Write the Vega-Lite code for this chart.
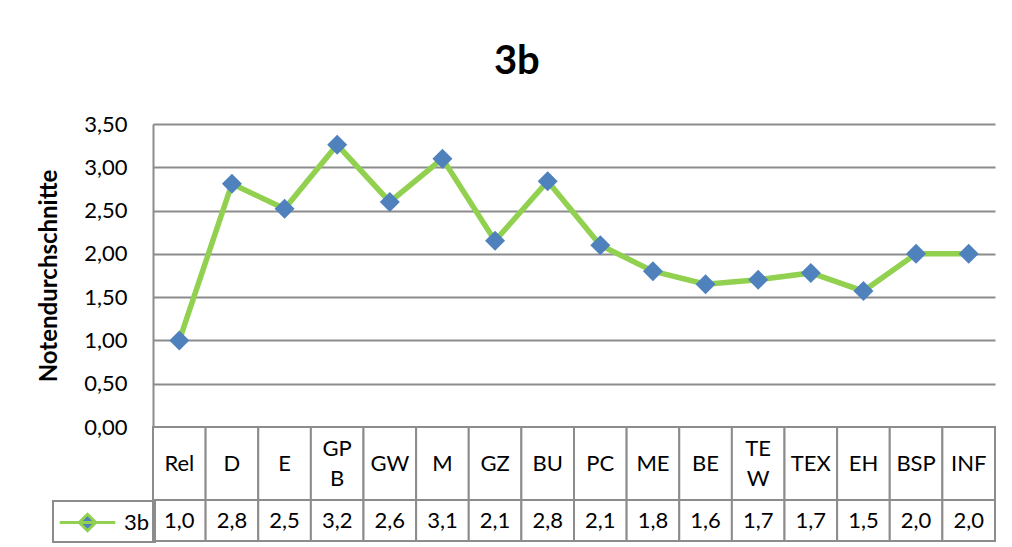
{
  "$schema": "https://vega.github.io/schema/vega-lite/v6.json",
  "background": "white",
  "padding": {"left": 37, "top": 42, "right": 15, "bottom": 5},
  "title": {"text": "3b", "font": "Lato", "fontSize": 40, "fontWeight": "bold", "color": "black", "anchor": "middle", "offset": 31},
  "datasets": {
    "noten": [
      {"fach": "Rel", "label": "Rel", "note": 1.00, "tabelle": "1,0"},
      {"fach": "D", "label": "D", "note": 2.81, "tabelle": "2,8"},
      {"fach": "E", "label": "E", "note": 2.52, "tabelle": "2,5"},
      {"fach": "GPB", "label": "GP\nB", "note": 3.26, "tabelle": "3,2"},
      {"fach": "GW", "label": "GW", "note": 2.60, "tabelle": "2,6"},
      {"fach": "M", "label": "M", "note": 3.10, "tabelle": "3,1"},
      {"fach": "GZ", "label": "GZ", "note": 2.15, "tabelle": "2,1"},
      {"fach": "BU", "label": "BU", "note": 2.84, "tabelle": "2,8"},
      {"fach": "PC", "label": "PC", "note": 2.10, "tabelle": "2,1"},
      {"fach": "ME", "label": "ME", "note": 1.80, "tabelle": "1,8"},
      {"fach": "BE", "label": "BE", "note": 1.65, "tabelle": "1,6"},
      {"fach": "TEW", "label": "TE\nW", "note": 1.70, "tabelle": "1,7"},
      {"fach": "TEX", "label": "TEX", "note": 1.78, "tabelle": "1,7"},
      {"fach": "EH", "label": "EH", "note": 1.57, "tabelle": "1,5"},
      {"fach": "BSP", "label": "BSP", "note": 2.00, "tabelle": "2,0"},
      {"fach": "INF", "label": "INF", "note": 2.00, "tabelle": "2,0"}
    ]
  },
  "data": {"name": "noten"},
  "spacing": 0,
  "bounds": "flush",
  "vconcat": [
    {
      "width": 842,
      "height": 303,
      "layer": [
        {
          "mark": {"type": "line", "strokeWidth": 5.5},
          "encoding": {
            "x": {"field": "fach", "type": "nominal", "sort": null, "scale": {"type": "point", "padding": 0.5}, "axis": null},
            "y": {
              "field": "note", "type": "quantitative", "title": "Notendurchschnitte",
              "scale": {"domain": [0, 3.5], "nice": false, "zero": true},
              "axis": {
                "values": [0, 0.5, 1, 1.5, 2, 2.5, 3, 3.5],
                "labelExpr": "replace(format(datum.value, '.2f'), '.', ',')",
                "grid": true, "gridColor": "#8c8c8c", "gridWidth": 2,
                "domain": true, "domainColor": "#8c8c8c", "domainWidth": 2,
                "ticks": false, "labelPadding": 26,
                "labelFont": "Lato", "labelFontSize": 22, "labelColor": "black",
                "titleFont": "Lato", "titleFontSize": 24, "titleFontWeight": "bold", "titleColor": "black",
                "titlePadding": 22
              }
            },
            "stroke": {
              "datum": "3b",
              "scale": {"range": ["#92D050"]},
              "legend": {
                "orient": "none", "legendX": -100, "legendY": 377,
                "title": null,
                "symbolType": "M-1.85,0H1.85M0,-0.55L0.55,0L0,0.55L-0.55,0Z",
                "symbolSize": 900,
                "symbolStrokeWidth": 3,
                "symbolFillColor": "#4F81BD",
                "symbolOffset": 13,
                "labelFont": "Lato", "labelFontSize": 22, "labelColor": "black",
                "labelOffset": 20,
                "padding": 5,
                "strokeColor": "#8c8c8c",
                "encode": {"legend": {"update": {"strokeWidth": {"value": 2}}}}
              }
            }
          }
        },
        {
          "mark": {"type": "point", "shape": "diamond", "filled": true, "fill": "#4F81BD", "size": 400, "opacity": 1},
          "encoding": {
            "x": {"field": "fach", "type": "nominal", "sort": null},
            "y": {"field": "note", "type": "quantitative"}
          }
        }
      ]
    },
    {
      "width": 842,
      "height": 73,
      "layer": [
        {
          "mark": {"type": "rect", "fill": "white", "stroke": "#8c8c8c", "strokeWidth": 2},
          "encoding": {
            "x": {"field": "fach", "type": "nominal", "sort": null, "scale": {"type": "band", "paddingInner": 0, "paddingOuter": 0}, "axis": null}
          }
        },
        {
          "transform": [{"filter": "indexof(datum.label, '\\n') < 0"}],
          "mark": {"type": "text", "font": "Lato", "fontSize": 22, "color": "black", "baseline": "middle"},
          "encoding": {
            "x": {"field": "fach", "type": "nominal", "sort": null},
            "text": {"field": "label"}
          }
        },
        {
          "transform": [{"filter": "indexof(datum.label, '\\n') >= 0"}],
          "mark": {"type": "text", "font": "Lato", "fontSize": 22, "color": "black", "baseline": "middle", "lineBreak": "\n", "lineHeight": 30, "dy": -15},
          "encoding": {
            "x": {"field": "fach", "type": "nominal", "sort": null},
            "text": {"field": "label"}
          }
        }
      ]
    },
    {
      "width": 842,
      "height": 41,
      "layer": [
        {
          "mark": {"type": "rect", "fill": "white", "stroke": "#8c8c8c", "strokeWidth": 2},
          "encoding": {
            "x": {"field": "fach", "type": "nominal", "sort": null, "scale": {"type": "band", "paddingInner": 0, "paddingOuter": 0}, "axis": null}
          }
        },
        {
          "mark": {"type": "text", "font": "Lato", "fontSize": 22, "color": "black", "baseline": "middle"},
          "encoding": {
            "x": {"field": "fach", "type": "nominal", "sort": null},
            "text": {"field": "tabelle"}
          }
        }
      ]
    }
  ],
  "config": {"view": {"stroke": null}, "font": "Lato"}
}
